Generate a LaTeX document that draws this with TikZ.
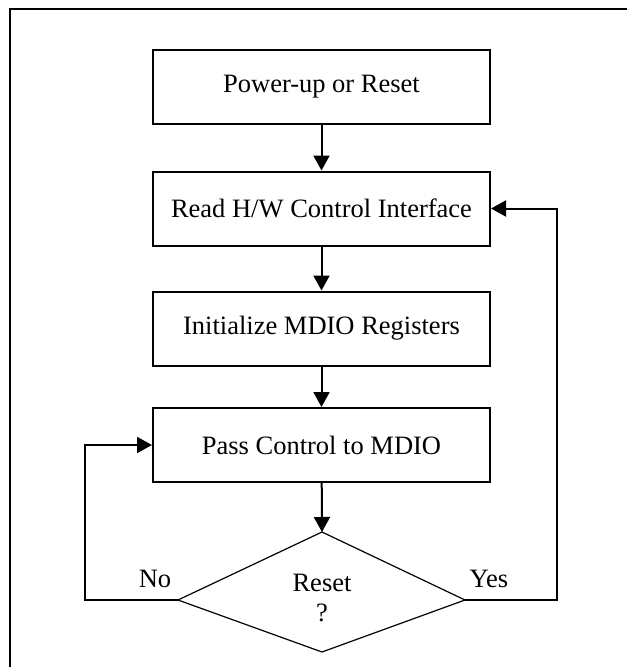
\documentclass[tikz,border=0pt]{standalone}
\usepackage{fontspec}
\setmainfont{Liberation Serif}
\usetikzlibrary{arrows.meta}
\begin{document}
\begin{tikzpicture}[x=1pt,y=-1pt,
    stepbox/.style={draw, line width=2pt, minimum width=337pt, minimum height=74pt, inner sep=0pt, font=\fontsize{26.5}{30}\selectfont},
    flow/.style={line width=2pt, -{Triangle[length=15pt,width=16pt]}},
    lbl/.style={inner sep=0pt, font=\fontsize{26.5}{30}\selectfont}]
    \useasboundingbox (0,0) rectangle (627,667);
    \draw[line width=2pt] (10,667) -- (10,9) -- (627,9);

    \node[stepbox] (pwr) at (321.5,87) {Power-up or Reset};
    \node[stepbox] (hw) at (321.5,208.5) {Read H/W Control Interface};
    \node[stepbox] (mdio) at (321.5,328.5) {Initialize MDIO Registers};
    \node[stepbox] (pass) at (321.5,445) {Pass Control to MDIO};

    \coordinate (decT) at (322,532);
    \coordinate (decR) at (465,600);
    \coordinate (decB) at (322,652);
    \coordinate (decL) at (178,600);
    \draw[line width=1.2pt] (decT) -- (decR) -- (decB) -- (decL) -- cycle;
    \node[lbl, align=center] (dec) at (322,598) {Reset\\?};

    \draw[flow] (pwr) -- (hw);
    \draw[flow] (hw) -- (mdio);
    \draw[flow] (mdio) -- (pass);
    \draw[flow] (pass) -- (decT);
    \draw[flow] (decR) -- ++(92,0) |- (hw.east);
    \draw[flow] (decL) -- ++(-93,0) |- (pass.west);

    \node[lbl] (no) at (155,579) {No};
    \node[lbl] (yes) at (489,579) {Yes};
  \end{tikzpicture}
\end{document}
